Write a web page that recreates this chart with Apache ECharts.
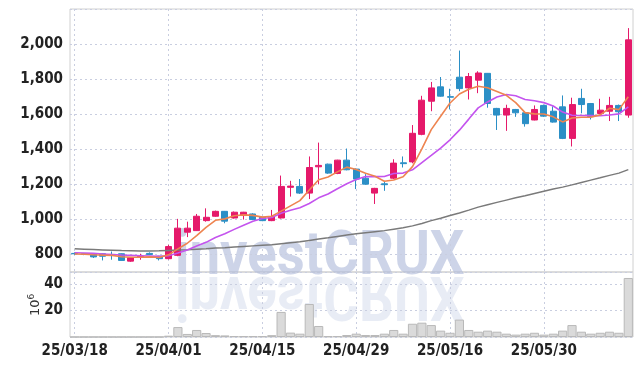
<!DOCTYPE html>
<html>
<head>
<meta charset="utf-8">
<script src="https://cdn.jsdelivr.net/npm/echarts@6/dist/echarts.min.js"></script>
<style>
html,body{margin:0;padding:0;background:#fff;}
#chart{width:643px;height:366px;}
</style>
</head>
<body>
<div id="chart"></div>
<script>
var dates = ['25/03/18','25/03/19','25/03/20','25/03/21','25/03/24','25/03/25','25/03/26','25/03/27','25/03/28','25/03/31',
'25/04/01','25/04/02','25/04/03','25/04/04','25/04/07','25/04/08','25/04/09','25/04/10','25/04/11','25/04/14',
'25/04/15','25/04/16','25/04/17','25/04/18','25/04/21','25/04/22','25/04/23','25/04/24','25/04/25','25/04/28',
'25/04/29','25/04/30','25/05/02','25/05/07','25/05/08','25/05/09','25/05/12','25/05/13','25/05/14','25/05/15',
'25/05/16','25/05/19','25/05/20','25/05/21','25/05/22','25/05/23','25/05/26','25/05/27','25/05/28','25/05/29',
'25/05/30','25/06/02','25/06/04','25/06/05','25/06/09','25/06/10','25/06/11','25/06/12','25/06/13','25/06/16'];

var opens  = [806,804,804,804,800,804,762,785,806,790, 776,795,927,936,993,1018,1046,1008,1022,1031,
              1012,993,1008,1183,1188,1150,1300,1315,1262,1338, 1287,1235,1150,1203,1235,1323,1328,1485,1674,1756,
              1700,1811,1750,1794,1833,1633,1595,1627,1608,1567, 1650,1617,1642,1462,1690,1661,1604,1617,1650,1595];
var closes = [804,800,786,790,795,766,781,790,800,776, 845,950,950,1018,1012,1046,990,1041,1041,999,
              993,1016,1188,1190,1150,1296,1308,1264,1338,1283, 1230,1201,1177,1198,1321,1318,1491,1680,1750,1703,
              1697,1746,1815,1835,1661,1595,1633,1608,1546,1627, 1589,1555,1462,1655,1655,1586,1623,1650,1614,2024];
var lows   = [798,796,780,766,770,764,758,770,796,766, 772,790,899,934,987,1015,978,1005,999,996,
              990,990,1005,1130,1145,1116,1200,1260,1258,1280, 1173,1198,1088,1163,1230,1296,1320,1480,1617,1700,
              1627,1731,1684,1720,1637,1510,1505,1585,1529,1565, 1585,1552,1458,1416,1605,1570,1600,1561,1561,1580];
var highs  = [812,806,806,806,817,806,785,804,812,792, 855,1003,987,1031,1063,1050,1048,1045,1043,1035,
              1015,1054,1250,1220,1230,1359,1438,1318,1340,1404, 1290,1258,1180,1220,1343,1359,1538,1705,1784,1812,
              1745,1963,1835,1845,1835,1636,1654,1630,1612,1650, 1655,1645,1707,1694,1745,1664,1688,1699,1655,2091];

var ma5  = [803,801,798,796,795,787,784,784,786,783, 798,832,864,908,955,995,1003,1021,1026,1023,
            1013,1018,1047,1077,1107,1168,1226,1242,1271,1298, 1285,1263,1246,1218,1225,1243,1301,1402,1512,1588,
            1664,1715,1742,1759,1751,1730,1708,1666,1609,1602, 1601,1585,1556,1578,1583,1583,1596,1634,1626,1699];
var ma10 = [810,808,806,803,800,797,795,793,791,789, 793,808,825,848,869,897,918,943,967,990,
            1005,1011,1035,1052,1066,1091,1123,1145,1175,1203, 1227,1245,1244,1245,1262,1264,1283,1324,1365,1407,
            1454,1509,1572,1636,1670,1698,1712,1705,1684,1677, 1666,1647,1612,1594,1593,1592,1591,1595,1602,1642];
var ma60 = [832,830,828,826,824,822,821,820,820,821, 823,825,827,830,833,837,839,843,846,849,
            852,855,861,867,872,880,888,895,903,911, 918,924,930,936,944,952,963,977,993,1007,
            1022,1037,1053,1070,1084,1097,1110,1123,1135,1148, 1161,1173,1184,1197,1211,1224,1237,1251,1264,1284];

var volumes = [0,0,0,0,0,0,0,0,0,0, 1.0,7.5,2.3,5.3,3.0,1.4,1.2,0.7,0.6,0.6,
               0.6,1.4,18.9,3.3,2.5,24.9,8.3,0.6,0.7,1.5, 2.5,1.5,1.5,2.5,5.3,2.5,10.0,10.8,9.0,4.8,
               3.2,13.1,5.3,4.0,4.8,4.0,2.5,1.8,2.5,3.2, 1.8,2.5,4.8,9.0,4.0,2.5,3.2,4.0,3.2,44.5];

var candleData = dates.map(function(d,i){ return [opens[i], closes[i], lows[i], highs[i]]; });

var labelFont = "'Liberation Sans Narrow','DejaVu Sans Condensed','Roboto Condensed',sans-serif";
var gridDot = {show:true, lineStyle:{color:'#c9cee0', type:[2,3], width:1}};

var chart = echarts.init(document.getElementById('chart'), null, {renderer:'canvas'});
chart.setOption({
  animation:false,
  backgroundColor:'#fff',
  grid:[
    {left:70, right:10, top:9, height:263, show:true, borderColor:'#d0d0d0', borderWidth:1},
    {left:70, right:10, top:272, height:65, show:true, borderColor:'#d0d0d0', borderWidth:1}
  ],
  xAxis:[
    {type:'category', data:dates, gridIndex:0, boundaryGap:true,
     axisLine:{show:false}, axisTick:{show:false}, axisLabel:{show:false},
     splitLine:{show:true, interval:9, alignWithLabel:true, lineStyle:{color:'#c9cee0', type:[2,3], width:1}}},
    {type:'category', data:dates, gridIndex:1, boundaryGap:true,
     axisLine:{show:false}, axisTick:{show:false},
     axisLabel:{show:true, interval:9, color:'#222', fontFamily:labelFont, fontWeight:'bold', fontSize:15, margin:7},
     splitLine:{show:true, interval:9, alignWithLabel:true, lineStyle:{color:'#c9cee0', type:[2,3], width:1}}}
  ],
  yAxis:[
    {type:'value', gridIndex:0, min:700, max:2200, splitNumber:7, scale:true,
     axisLine:{show:false}, axisTick:{show:false},
     axisLabel:{color:'#222', fontFamily:labelFont, fontWeight:'bold', fontSize:15, margin:7,
                showMinLabel:false, showMaxLabel:false},
     splitLine:gridDot},
    {type:'value', gridIndex:1, min:0, max:49, interval:20,
     axisLine:{show:false}, axisTick:{show:false},
     axisLabel:{color:'#222', fontFamily:labelFont, fontWeight:'bold', fontSize:15, margin:7,
                showMinLabel:false, showMaxLabel:false},
     splitLine:gridDot}
  ],
  graphic:[
    {type:'text', x:175, y:227, z:0, scaleX:0.88,
     style:{text:'investCRUX', font:'bold 62px Roboto', fill:'rgba(174,185,218,0.62)'}},
    {type:'text', x:175, y:323, z:0, scaleX:0.88, scaleY:-1,
     style:{text:'investCRUX', font:'bold 62px Roboto', fill:'rgba(174,185,218,0.28)'}},
    {type:'text', x:27, y:316, rotation:Math.PI/2, z:5,
     style:{text:'{a|10}{b|6}', rich:{a:{fontSize:13, fontFamily:'DejaVu Sans', fill:'#333'}, b:{fontSize:9, fontFamily:'DejaVu Sans', fill:'#333', verticalAlign:'top', padding:[0,0,8,0]}}}}
  ],
  series:[
    {type:'candlestick', xAxisIndex:0, yAxisIndex:0, data:candleData, barWidth:6.5, z:3,
     itemStyle:{color:'#e5196a', color0:'#2b8fc6', borderColor:'#e5196a', borderColor0:'#2b8fc6', borderWidth:1}},
    {type:'line', xAxisIndex:0, yAxisIndex:0, data:ma60, symbol:'none', z:4,
     lineStyle:{color:'#7a7a7a', width:1.5}},
    {type:'line', xAxisIndex:0, yAxisIndex:0, data:ma10, symbol:'none', z:4,
     lineStyle:{color:'#c454ee', width:1.6}},
    {type:'line', xAxisIndex:0, yAxisIndex:0, data:ma5, symbol:'none', z:4,
     lineStyle:{color:'#ee8450', width:1.6}},
    {type:'bar', xAxisIndex:1, yAxisIndex:1, data:volumes, barCategoryGap:'2%', z:3,
     itemStyle:{color:'#dadada', borderColor:'#b9b9b9', borderWidth:1}}
  ]
});
</script>
</body>
</html>
